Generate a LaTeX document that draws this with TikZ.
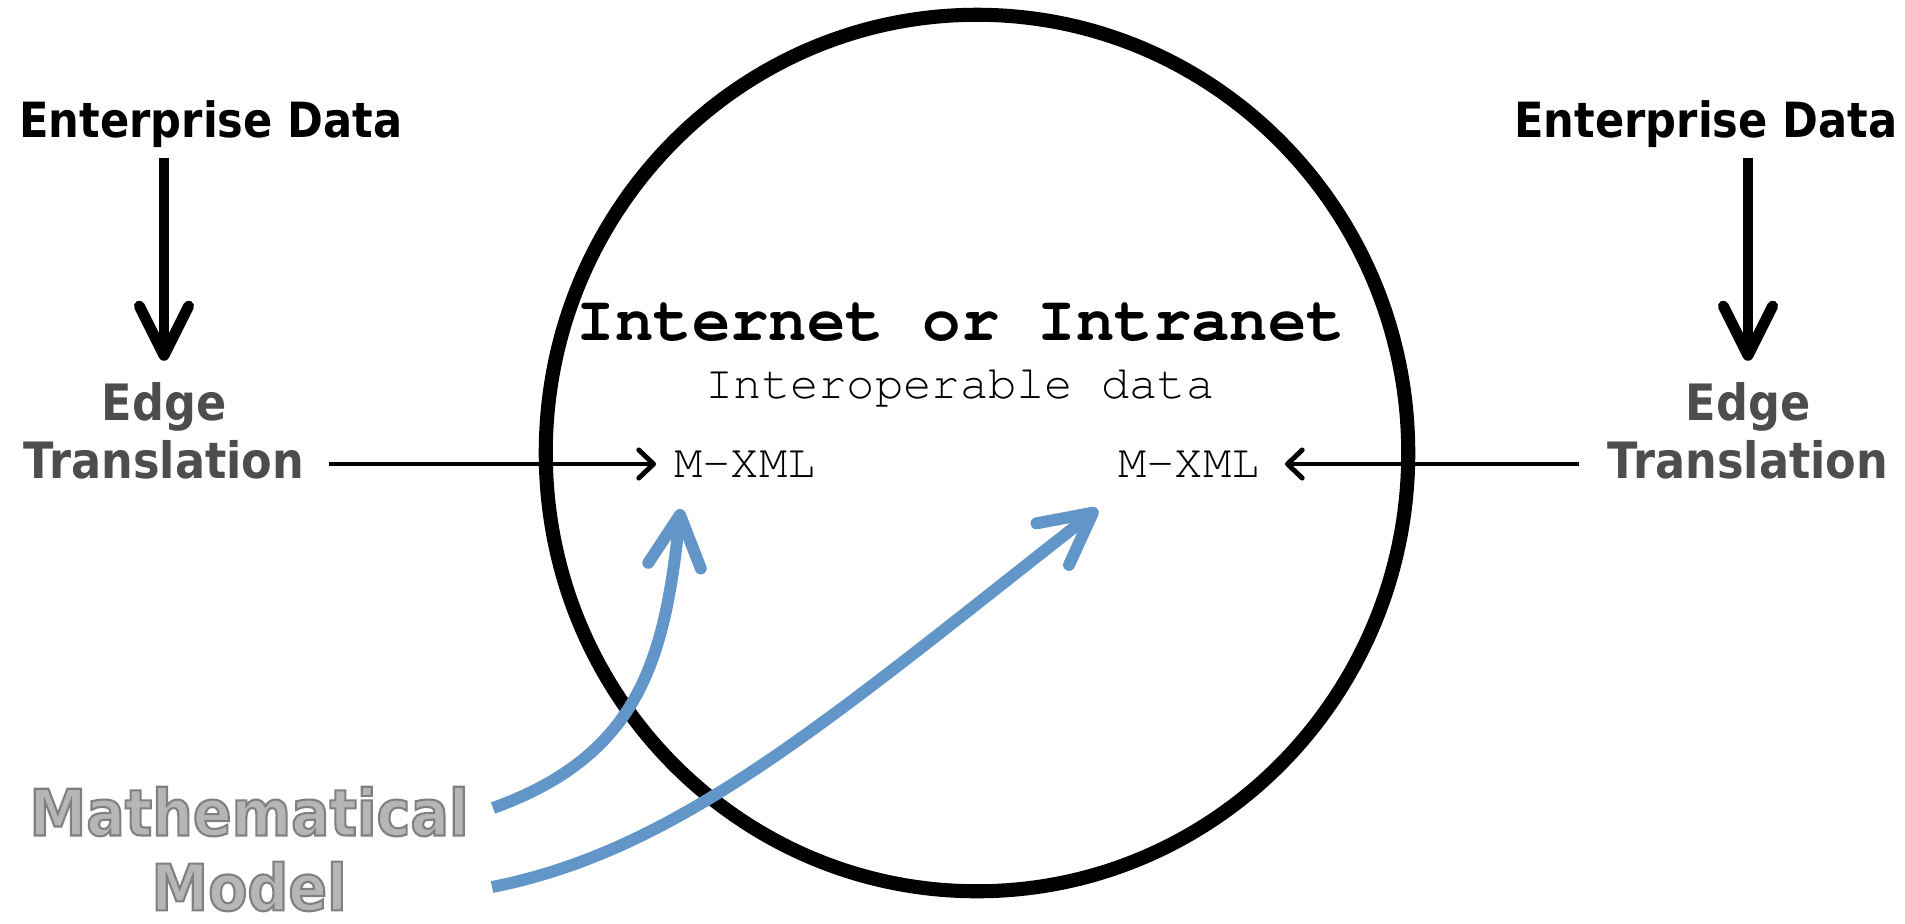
\documentclass[tikz,border=0pt]{standalone}
\usepackage{fontspec}
\setmonofont{texgyrecursor}[Extension=.otf, UprightFont=*-regular, BoldFont=*-bold]
\newfontfamily\lucida[FakeStretch=0.89]{DejaVu Sans}
\usetikzlibrary{arrows.meta, shapes.geometric}
\definecolor{edgegray}{RGB}{77,77,77}
\definecolor{modelblue}{RGB}{98,150,200}
\definecolor{modelgray}{RGB}{182,182,182}
\newcommand\hollowtext[1]{\special{pdf:literal direct q 2 Tr 0.6 w 0.5 0.5 0.5 RG}#1\special{pdf:literal direct Q}}

\begin{document}
\begin{tikzpicture}[x=0.01cm, y=-0.01cm, inner sep=0pt,
    bigarrow/.style={line width=3.1pt, -{Straight Barb[round, length=14pt, width=14pt]}},
    thinarrow/.style={line width=1.4pt, -{Straight Barb[round, length=4.2pt, width=8pt]}},
    bluearrow/.style={modelblue, line width=3.4pt, -{Straight Barb[round, length=14.5pt, width=15pt]}},
    datalabel/.style={font=\lucida\bfseries\fontsize{13.8}{16}\selectfont, anchor=base},
    edgelabel/.style={font=\lucida\bfseries\fontsize{14.25}{16.5}\selectfont, text=edgegray, align=center},
    xmllabel/.style={font=\ttfamily\fontsize{13.4}{16}\selectfont}]
    \useasboundingbox (0,0) rectangle (1905,923);

    % Network
    \node[draw, ellipse, line width=4pt, minimum width=8.62cm, minimum height=8.76cm] (net) at (977,453) {};
    \node[font=\ttfamily\bfseries\fontsize{18.2}{20}\selectfont, anchor=base] (inet) at (961,340) {Internet or Intranet};
    \node[xmllabel, anchor=base] (interop) at (960,398) {Interoperable data};
    \node[xmllabel] (mxL) at (745,464) {M-XML};
    \node[xmllabel] (mxR) at (1189,464) {M-XML};

    % Left side
    \node[datalabel] (entL) at (211,137) {Enterprise Data};
    \node[edgelabel] (edgeL) at (164,431) {Edge\\Translation};
    \draw[bigarrow, shorten <=2.8pt, shorten >=6pt] (entL.south -| edgeL.north) -- (edgeL.north);
    \draw[thinarrow, shorten <=6.8pt, shorten >=5pt] (edgeL.east |- mxL.west) -- (mxL.west);

    % Right side
    \node[datalabel] (entR) at (1706,137) {Enterprise Data};
    \node[edgelabel] (edgeR) at (1748,431) {Edge\\Translation};
    \draw[bigarrow, shorten <=2.8pt, shorten >=6pt] (entR.south -| edgeR.north) -- (edgeR.north);
    \draw[thinarrow, shorten <=8pt, shorten >=7pt] (edgeR.west |- mxR.east) -- (mxR.east);

    % Model
    \node[font=\lucida\bfseries\fontsize{18.25}{21.3}\selectfont, text=modelgray, align=center] (model) at (249,849) {\hollowtext{Mathematical}\\\hollowtext{Model}};
    \coordinate (mmA) at (493,808);
    \coordinate (mmB) at (492,887);
    \coordinate (tipA) at ([shift={(7,31)}]mxL.south west);
    \coordinate (tipB) at ([shift={(-20,31)}]mxR.south west);
    \draw[bluearrow] (mmA) .. controls +(147,-53) and +(-16,150) .. (tipA);
    \draw[bluearrow] (mmB) .. controls +(188,-37) and +(-268,210) .. (tipB);
\end{tikzpicture}
\end{document}
